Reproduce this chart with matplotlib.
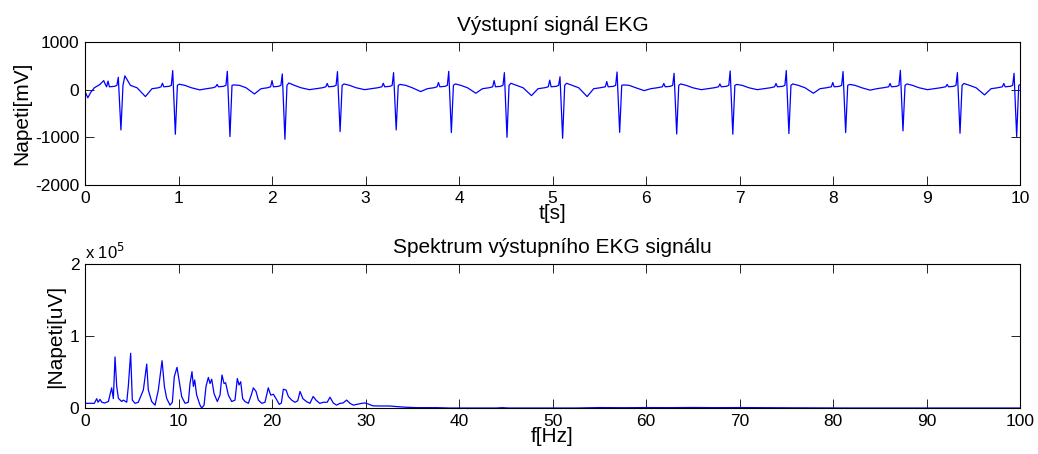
import matplotlib
matplotlib.use("Agg")
import matplotlib.pyplot as plt
from matplotlib.ticker import FuncFormatter

plt.rcParams["font.family"] = ["Liberation Sans", "DejaVu Sans"]
plt.rcParams["font.size"] = 12
plt.rcParams["axes.unicode_minus"] = False

# ---- ECG: per-beat landmarks (time of R wave in s, amplitudes in mV) ----
r_time = [0.356, 0.938, 1.522, 2.110, 2.700, 3.300, 3.890, 4.485, 5.080,
          5.690, 6.300, 6.900, 7.500, 8.107, 8.720, 9.330, 9.936]
r_mv = [260, 400, 385, 330, 378, 357, 385, 357, 270,
        370, 343, 392, 400, 380, 405, 357, 343]
s_mv = [-845, -935, -985, -1040, -880, -845, -900, -1000, -1020,
        -895, -930, -935, -920, -900, -865, -915, -985]
t_mv = [290, 115, 100, 140, 120, 110, 120, 134, 134,
        100, 120, 110, 120, 110, 120, 130, 110]
dip_mv = [-145, -5, -90, 0, 0, -40, -75, -125, -145,
          -20, 0, 0, -75, -10, 0, -110, 0]
p_mv = [180, 134, 110, 190, 130, 134, 150, 190, 200,
        170, 130, 120, 130, 150, 130, 110, 130]

# start of the record, before the first complex
lead_in_t = [0.0, 0.03, 0.06, 0.10, 0.16, 0.20, 0.215]
lead_in_mv = [-40, -170, -60, 40, 110, 190, 120]

# ---- Spectrum: frequency (Hz) and magnitude (x 1e5 uV) ----
spec_hz = [0, 1.0, 1.25, 1.4, 1.6, 1.8, 2.1, 2.5, 2.7, 2.85, 3.03, 3.21, 3.39,
           3.57, 3.92, 4.1, 4.46, 4.63, 4.88, 5.06, 5.35, 5.7, 6.24, 6.6, 6.77,
           7.13, 7.49, 7.84, 8.24, 8.49, 8.73, 9.09, 9.34, 9.55, 9.84, 10.05,
           10.34, 10.7, 11.05, 11.23, 11.44, 11.59, 11.73, 11.94, 12.3, 12.48,
           12.73, 12.94, 13.19, 13.37, 13.55, 13.8, 14.15, 14.44, 14.65, 14.87,
           15.04, 15.33, 15.69, 16.04, 16.29, 16.47, 16.65, 16.86, 17.11, 17.47,
           17.83, 18.0, 18.29, 18.54, 18.9, 19.25, 19.6, 19.86, 20.15, 20.43,
           20.78, 21.0, 21.21, 21.5, 21.75, 22.1, 22.46, 22.75, 23.0, 23.3,
           23.7, 24.06, 24.4, 24.7, 25.1, 25.5, 25.9, 26.2, 26.55, 26.9, 27.27,
           27.6, 27.98, 28.34, 28.7, 29.05, 29.6, 29.95, 30.3, 30.8, 31.55,
           32.6, 33.3, 34.4, 35.5, 37.6, 39.0, 44.0, 44.6, 45.3, 46.0, 52.5,
           55.0, 57.5, 60.0, 62.5, 65.0, 67.5, 70.0, 72.5, 75.0, 78.0, 80.5,
           82.0, 100.0]
spec_amp = [0.065, 0.065, 0.13, 0.08, 0.12, 0.08, 0.07, 0.09, 0.2, 0.28, 0.13,
            0.71, 0.30, 0.135, 0.09, 0.11, 0.08, 0.30, 0.76, 0.11, 0.065, 0.08,
            0.25, 0.61, 0.25, 0.09, 0.04, 0.25, 0.657, 0.30, 0.135, 0.04, 0.08,
            0.435, 0.565, 0.39, 0.157, 0.065, 0.08, 0.34, 0.505, 0.30, 0.39,
            0.18, 0.04, 0.0, 0.04, 0.30, 0.425, 0.34, 0.40, 0.2, 0.09, 0.18,
            0.458, 0.34, 0.35, 0.18, 0.09, 0.11, 0.41, 0.32, 0.365, 0.13, 0.09,
            0.065, 0.2, 0.28, 0.23, 0.11, 0.065, 0.08, 0.28, 0.18, 0.19, 0.13,
            0.05, 0.07, 0.26, 0.25, 0.16, 0.11, 0.08, 0.1, 0.23, 0.13, 0.088,
            0.065, 0.16, 0.11, 0.065, 0.08, 0.08, 0.15, 0.07, 0.04, 0.065,
            0.07, 0.11, 0.065, 0.04, 0.05, 0.065, 0.07, 0.055, 0.03, 0.028,
            0.028, 0.02, 0.01, 0.005, 0.005, 0.0, 0.0, 0.005, 0.0, 0.0, 0.0,
            0.006, 0.004, 0.006, 0.005, 0.007, 0.005, 0.006, 0.004, 0.003,
            0.002, 0.002, 0.0, 0.0]
assert len(spec_hz) == len(spec_amp)

# ---- assemble the ECG trace from the beat landmarks ----
ecg_t = list(lead_in_t)
ecg_v = list(lead_in_mv)
for R, rv, sv, tv, dv, pv in zip(r_time, r_mv, s_mv, t_mv, dip_mv, p_mv):
    ecg_t += [R - 0.125, R - 0.11, R - 0.095, R - 0.04, R - 0.015, R,
              R + 0.028, R + 0.05, R + 0.07, R + 0.13, R + 0.2, R + 0.29,
              R + 0.36, R + 0.43]
    ecg_v += [60, pv, 60, 70, 90, rv, sv, 90, tv, 90, 40, dv, 20, 40]

spec_uv = [a * 1e5 for a in spec_amp]

LABEL_FS = 15
TICK_FS = 12.5

fig = plt.figure(figsize=(10.38, 4.54), dpi=100)
ax1 = fig.add_axes([0.0819, 0.5925, 0.9008, 0.315])
ax2 = fig.add_axes([0.0819, 0.1013, 0.9008, 0.3172])

line_kw = dict(color="#0000ff", linewidth=0.9)

ax1.plot(ecg_t, ecg_v, **line_kw)
ax1.set_xlim(0, 10)
ax1.set_ylim(-2000, 1000)
ax1.set_xticks(range(0, 11))
ax1.set_yticks([-2000, -1000, 0, 1000])
ax1.set_title("Výstupní signál EKG", fontsize=LABEL_FS, pad=8)
ax1.set_xlabel("t[s]", fontsize=LABEL_FS, labelpad=-1)
ax1.set_ylabel("Napeti[mV]", fontsize=LABEL_FS, labelpad=3)

ax2.plot(spec_hz, spec_uv, **line_kw)
ax2.set_xlim(0, 100)
ax2.set_ylim(0, 2e5)
ax2.set_xticks(range(0, 101, 10))
ax2.set_yticks([0, 1e5, 2e5])
ax2.yaxis.set_major_formatter(FuncFormatter(lambda v, p: f"{v / 1e5:g}"))
ax2.text(0.0, 1.015, r"x 10$^{5}$", transform=ax2.transAxes,
         ha="left", va="bottom", fontsize=12)
ax2.set_title("Spektrum výstupního EKG signálu", fontsize=LABEL_FS, pad=8)
ax2.set_xlabel("f[Hz]", fontsize=LABEL_FS, labelpad=-1)
ax2.set_ylabel("|Napeti[uV]", fontsize=LABEL_FS, labelpad=3)

for ax in (ax1, ax2):
    ax.tick_params(direction="in", top=True, right=True, length=6.5,
                   width=0.6, labelsize=TICK_FS, pad=4)
    for sp in ax.spines.values():
        sp.set_linewidth(0.8)

fig.savefig("out.png", dpi=100)
